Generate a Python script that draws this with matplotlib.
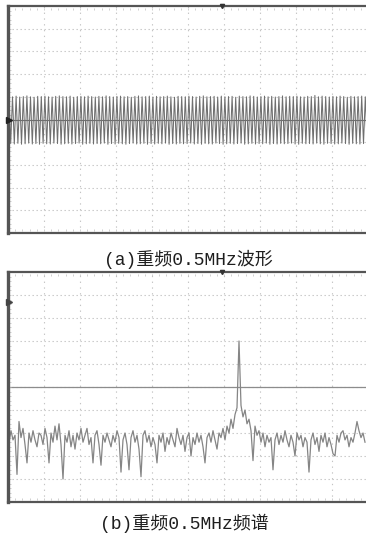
import matplotlib
matplotlib.use("Agg")
import matplotlib.pyplot as plt
import numpy as np

# screen is 10 x 10 divisions, values below are in divisions
n_div = 10

# waveform: per-cycle positive / negative peaks around the centre line
wave_upper = [1.02, 1.00, 1.03, 0.99, 1.01, 1.04, 1.00, 0.98, 1.02, 1.01,
              1.03, 1.00, 0.99, 1.02, 1.04, 1.01, 1.00, 1.03, 0.98, 1.01,
              1.02, 1.00, 1.03, 1.01, 0.99, 1.02, 1.00, 1.04, 1.01, 0.99,
              1.02, 1.03, 1.00, 1.01, 0.98, 1.02, 1.04, 1.00, 1.01, 1.03,
              0.99, 1.02, 1.00, 1.01, 1.03, 1.00, 0.98, 1.02, 1.01, 1.00,
              1.03, 1.01, 0.99, 1.02, 1.04, 1.00, 1.01, 1.02, 0.99, 1.03,
              1.00, 1.01, 1.02, 0.98, 1.03, 1.01, 1.00, 1.04, 1.02, 0.99,
              1.01, 1.03, 1.00, 1.02, 0.99, 1.01, 1.04, 1.00, 1.02, 1.01,
              1.03, 1.00, 0.99, 1.02, 1.01, 1.06, 1.00, 1.03, 1.01, 0.99,
              1.02, 1.00, 1.03, 1.01, 0.98, 1.02, 1.00, 1.01, 1.03, 1.00]
wave_lower = [-1.06, -1.08, -1.05, -1.09, -1.07, -1.04, -1.08, -1.06, -1.09, -1.05,
              -1.07, -1.08, -1.04, -1.06, -1.09, -1.07, -1.05, -1.08, -1.06, -1.04,
              -1.09, -1.07, -1.05, -1.08, -1.06, -1.07, -1.04, -1.09, -1.06, -1.08,
              -1.05, -1.07, -1.09, -1.06, -1.04, -1.08, -1.07, -1.05, -1.09, -1.06,
              -1.08, -1.05, -1.07, -1.04, -1.09, -1.06, -1.08, -1.05, -1.07, -1.06,
              -1.04, -1.08, -1.06, -1.09, -1.05, -1.07, -1.08, -1.04, -1.06, -1.09,
              -1.07, -1.05, -1.08, -1.06, -1.04, -1.09, -1.07, -1.05, -1.08, -1.06,
              -1.07, -1.04, -1.09, -1.06, -1.08, -1.05, -1.07, -1.06, -1.04, -1.08,
              -1.09, -1.05, -1.07, -1.06, -1.08, -1.04, -1.07, -1.09, -1.05, -1.06,
              -1.08, -1.07, -1.04, -1.06, -1.09, -1.05, -1.07, -1.08, -1.06, -1.05]

# spectrum trace, amplitude in divisions above the bottom of the screen
spectrum = [2.6, 3.1, 2.7, 2.9, 1.2, 3.5, 2.8, 3.2, 2.5, 1.7,
            3.0, 2.6, 3.1, 2.7, 2.4, 3.0, 2.9, 2.5, 3.2, 2.8,
            1.7, 3.0, 2.6, 3.3, 2.7, 3.4, 2.5, 1.0, 2.9, 2.6,
            3.1, 2.4, 2.9, 2.3, 3.0, 2.7, 3.2, 2.6, 2.9, 3.2,
            2.5, 2.8, 1.7, 2.9, 3.1, 2.5,
            1.6, 2.9, 2.6, 3.0, 2.7, 2.4, 2.9, 2.6, 3.1, 2.8,
            1.3, 2.7, 3.0, 2.5, 1.4, 2.8, 3.1, 2.6, 2.9, 2.3,
            1.1, 2.9, 3.1, 2.6, 2.9, 2.4, 2.8, 2.5, 1.7, 2.9,
            2.6, 3.0, 2.2, 2.8, 2.5, 3.0, 2.7, 2.4, 3.2, 2.8,
            2.5, 2.9, 2.2, 2.8, 3.0,
            2.0, 2.8, 2.5, 3.0, 2.6, 2.9, 2.4, 1.7, 2.8, 3.0,
            2.6, 3.1, 2.7, 2.3, 3.0, 2.8, 3.2, 2.7, 3.3, 3.0,
            3.6, 3.2, 3.8, 4.1, 7.0, 4.2, 3.7, 4.0, 3.4, 3.6,
            3.1, 1.8, 3.3, 2.9, 3.1, 2.6, 3.0, 2.4, 2.9, 2.6,
            2.8, 1.4, 2.7, 3.0, 2.5,
            2.9, 2.6, 3.1, 2.7, 2.4, 2.9, 2.6, 2.0, 3.0, 2.7,
            2.9, 2.4, 2.8, 2.6, 1.3, 2.7, 3.0, 2.5, 2.8, 2.2,
            2.9, 2.6, 3.0, 2.4, 2.8, 2.5, 2.1, 2.0, 2.9, 2.6,
            3.0, 3.1, 2.7, 2.9, 2.4, 2.8, 2.6, 3.0, 3.5, 3.1,
            2.8, 3.0, 2.6]

captions = ["(a)重频0.5MHz波形", "(b)重频0.5MHz频谱"]

frame_col = "#555555"
grid_col = "#c4c4c4"
trace_col = "#858585"


def scope_screen(ax, ymin, ymax):
    ax.set_xlim(0, n_div)
    ax.set_ylim(ymin, ymax)
    ax.set_xticks([])
    ax.set_yticks([])
    for i in range(1, n_div):
        ax.axvline(i, color=grid_col, lw=0.8, ls=(0, (1.2, 4.0)), zorder=1)
        ax.axhline(ymin + i * (ymax - ymin) / n_div, color=grid_col, lw=0.8,
                   ls=(0, (1.2, 2.4)), zorder=1)
    # small ticks along the edges, 5 per division
    minor_x = np.arange(0, n_div + 0.01, 0.2)
    minor_y = np.linspace(ymin, ymax, 5 * n_div + 1)
    tick_col = "#bdbdbd"
    ax.plot(np.zeros_like(minor_y) + 0.03, minor_y, "_", color=tick_col, ms=2.5, mew=0.5)
    ax.plot(minor_x, np.zeros_like(minor_x) + ymin + 0.015 * (ymax - ymin), "|",
            color=tick_col, ms=2, mew=0.5)
    ax.plot(minor_x, np.zeros_like(minor_x) + ymax - 0.015 * (ymax - ymin), "|",
            color=tick_col, ms=2, mew=0.5)
    for side in ["top", "bottom", "right"]:
        ax.spines[side].set_color(frame_col)
        ax.spines[side].set_linewidth(1.6)
    ax.spines["left"].set_color(frame_col)
    ax.spines["left"].set_linewidth(2.4)
    # trigger position mark at the top
    ax.plot([5.94], [ymax], "v", color="#333333", ms=3, clip_on=False, zorder=5)


fig = plt.figure(figsize=(3.66, 5.36), dpi=100)

# waveform screen
ax1 = fig.add_axes([8 / 366, 303 / 536, 360 / 366, 227 / 536])
scope_screen(ax1, -5, 5)
ax1.axhline(0, color="#6e6e6e", lw=0.8, zorder=3)
n_cyc = len(wave_upper)
xw = []
yw = []
for k in range(n_cyc):
    xw += [(k + 0.25) * n_div / n_cyc, (k + 0.75) * n_div / n_cyc]
    yw += [wave_upper[k], wave_lower[k]]
ax1.plot(xw, yw, color="#6f6f6f", lw=0.75, zorder=2)
ax1.plot([0.02], [0], ">", color="#222222", ms=5, clip_on=False, zorder=5)

# spectrum screen
ax2 = fig.add_axes([8 / 366, 34 / 536, 360 / 366, 230 / 536])
scope_screen(ax2, 0, 10)
ax2.axhline(5, color="#8c8c8c", lw=0.9, zorder=1)
fx = np.linspace(1 / 36, 357 / 36, len(spectrum))
ax2.plot(fx, spectrum, color=trace_col, lw=0.9, zorder=2)
ax2.plot([0.02], [8.7], ">", color="#444444", ms=4.5, clip_on=False, zorder=5)

cap_font = ["Liberation Mono", "Noto Sans CJK SC"]
fig.text(0.515, 1 - 259 / 536, captions[0], ha="center", va="center",
         fontsize=13, family=cap_font, color="#1e1e1e")
fig.text(0.505, 1 - 523 / 536, captions[1], ha="center", va="center",
         fontsize=13, family=cap_font, color="#1e1e1e")

fig.savefig("out.png", dpi=100)
